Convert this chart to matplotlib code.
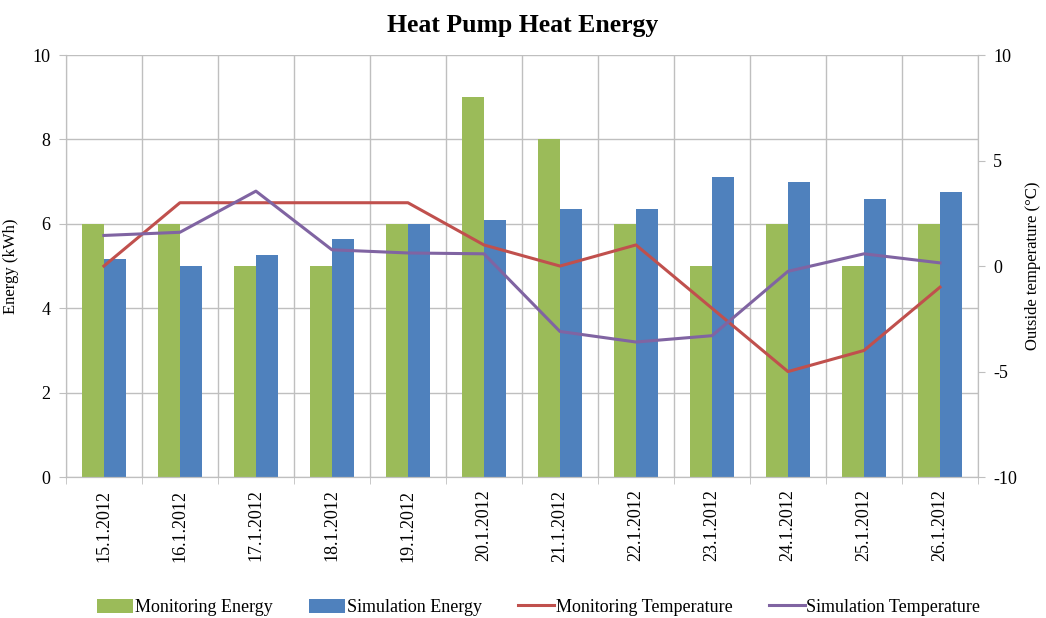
import matplotlib.pyplot as plt
import numpy as np

plt.rcParams['font.family'] = ['Liberation Serif', 'DejaVu Serif']
plt.rcParams['axes.unicode_minus'] = False

# data
dates = ['15.1.2012', '16.1.2012', '17.1.2012', '18.1.2012', '19.1.2012', '20.1.2012',
         '21.1.2012', '22.1.2012', '23.1.2012', '24.1.2012', '25.1.2012', '26.1.2012']
monitoring_energy = [6, 6, 5, 5, 6, 9, 8, 6, 5, 6, 5, 6]
simulation_energy = [5.16, 5.0, 5.25, 5.65, 6.0, 6.08, 6.35, 6.35, 7.11, 6.98, 6.59, 6.75]
monitoring_temp = [0, 3, 3, 3, 3, 1, 0, 1, -2, -5, -4, -1]
simulation_temp = [1.45, 1.6, 3.55, 0.77, 0.62, 0.58, -3.1, -3.6, -3.3, -0.25, 0.58, 0.15]

green = '#9BBB59'
blue = '#4F81BD'
red = '#C0504D'
purple = '#8064A2'
grid_col = '#BFBFBF'

fig = plt.figure(figsize=(10.46, 6.18), dpi=100)
ax = fig.add_axes([0.063, 0.228, 0.872, 0.683])
x = np.arange(len(dates))
w = 0.29

ax.bar(x - w / 2, monitoring_energy, w, color=green, label='Monitoring Energy', zorder=2)
ax.bar(x + w / 2, simulation_energy, w, color=blue, label='Simulation Energy', zorder=2)

ax.set_xlim(-0.5, len(dates) - 0.5)
ax.set_ylim(0, 10)
ax.set_yticks(np.arange(0, 11, 2))
ax.set_xticks(x)
ax.set_xticklabels(dates, rotation=90, fontsize=13)
ax.set_xticks(np.arange(-0.5, len(dates), 1), minor=True)
ax.tick_params(axis='x', which='major', length=0, pad=9)
ax.tick_params(axis='x', which='minor', length=5, color=grid_col, direction='out')
ax.tick_params(axis='y', length=5, color=grid_col, labelsize=13, pad=6)
ax.grid(True, which='minor', axis='x', color=grid_col, lw=1, zorder=0)
ax.grid(True, which='major', axis='y', color=grid_col, lw=1, zorder=0)
ax.set_axisbelow(True)
ax.spines['top'].set_visible(False)
for s in ['left', 'right', 'bottom']:
    ax.spines[s].set_color(grid_col)
ax.set_ylabel('Energy (kWh)', fontsize=12, labelpad=10)

ax2 = ax.twinx()
ax2.plot(x, monitoring_temp, color=red, lw=2.2, label='Monitoring Temperature', zorder=3)
ax2.plot(x, simulation_temp, color=purple, lw=2.2, label='Simulation Temperature', zorder=3)
ax2.set_ylim(-10, 10)
ax2.set_yticks([-10, -5, 0, 5, 10])
ax2.tick_params(axis='y', length=5, color=grid_col, labelsize=13, pad=6)
ax2.spines['top'].set_visible(False)
for s in ['left', 'right', 'bottom']:
    ax2.spines[s].set_color(grid_col)
ax2.set_ylabel('Outside temperature (°C)', fontsize=12, rotation=90, labelpad=6)

fig.suptitle('Heat Pump Heat Energy', fontsize=18.5, fontweight='bold', y=0.978)

h1, l1 = ax.get_legend_handles_labels()
h2, l2 = ax2.get_legend_handles_labels()
fig.legend(h1 + h2, l1 + l2, loc='center', bbox_to_anchor=(0.515, 0.017), ncol=4,
           frameon=False, fontsize=13, handlelength=2.0, handleheight=0.8,
           columnspacing=2.0, handletextpad=0.1)

fig.savefig('out.png', dpi=100)
